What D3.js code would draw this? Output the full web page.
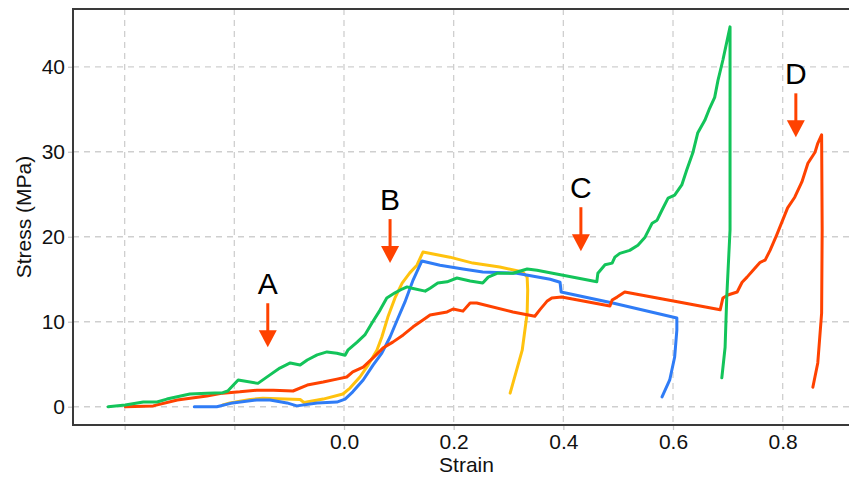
<!DOCTYPE html>
<html>
  <head>
    <style>
      body {
        margin: 0;
        background: #fff;
        overflow: hidden;
      }
      svg text {
        font-family: "Liberation Sans", Arial, sans-serif;
      }
    </style>
    <script src="https://d3js.org/d3.v7.min.js"></script>
  </head>
  <body>
    <script>
      const width = 849;
      const height = 480;

      // tick values
      const xTicks = [-0.4, -0.2, 0.0, 0.2, 0.4, 0.6, 0.8];
      const yTicks = [0, 10, 20, 30, 40];

      // curves: [strain, stress]
      const greenData = [
        [-0.43, 0.0], [-0.399, 0.2], [-0.366, 0.55], [-0.341, 0.55], [-0.323, 0.9],
        [-0.281, 1.5], [-0.25, 1.6], [-0.221, 1.65], [-0.212, 1.85], [-0.193, 3.15],
        [-0.157, 2.75], [-0.135, 3.75], [-0.117, 4.55], [-0.098, 5.15], [-0.08, 4.9],
        [-0.067, 5.5], [-0.049, 6.1], [-0.031, 6.45], [-0.013, 6.3], [0.002, 6.05],
        [0.007, 6.65], [0.024, 7.6], [0.038, 8.45], [0.051, 9.85], [0.066, 11.4],
        [0.078, 12.8], [0.093, 13.4], [0.106, 13.85], [0.115, 14.1], [0.124, 13.95],
        [0.148, 13.6], [0.157, 13.95], [0.171, 14.55], [0.188, 14.7], [0.206, 15.15],
        [0.23, 14.8], [0.253, 14.55], [0.263, 15.25], [0.279, 15.7], [0.308, 15.7],
        [0.334, 16.2], [0.352, 16.05], [0.461, 14.7], [0.463, 15.7], [0.476, 16.7],
        [0.489, 16.9], [0.494, 17.6], [0.503, 18.05], [0.521, 18.4], [0.536, 19.0],
        [0.549, 19.95], [0.562, 21.6], [0.571, 21.95], [0.58, 23.15], [0.591, 24.55],
        [0.603, 24.9], [0.616, 26.1], [0.625, 27.85], [0.636, 29.85], [0.645, 32.2],
        [0.658, 33.7], [0.667, 35.15], [0.676, 36.4], [0.682, 38.4], [0.691, 40.8],
        [0.704, 44.7], [0.704, 20.8], [0.698, 12.9], [0.695, 7.0], [0.689, 3.4]
      ];
      const redData = [
        [-0.399, 0.0], [-0.348, 0.1], [-0.304, 0.8], [-0.25, 1.25], [-0.221, 1.6],
        [-0.19, 1.75], [-0.159, 1.95], [-0.129, 1.95], [-0.093, 1.85], [-0.067, 2.55],
        [-0.038, 2.9], [-0.013, 3.25], [0.005, 3.5], [0.016, 4.1], [0.035, 4.65],
        [0.053, 5.75], [0.071, 6.9], [0.089, 7.6], [0.108, 8.45], [0.126, 9.4],
        [0.144, 10.2], [0.157, 10.8], [0.175, 11.0], [0.188, 11.15], [0.199, 11.5],
        [0.217, 11.25], [0.23, 12.2], [0.242, 12.2], [0.308, 11.15], [0.348, 10.65],
        [0.357, 11.4], [0.37, 12.4], [0.379, 12.8], [0.397, 12.9], [0.485, 11.85],
        [0.489, 12.55], [0.498, 12.9], [0.512, 13.5], [0.613, 12.3], [0.686, 11.4],
        [0.691, 12.8], [0.7, 13.15], [0.717, 13.5], [0.726, 14.65], [0.735, 15.25],
        [0.746, 16.05], [0.759, 17.0], [0.768, 17.25], [0.777, 18.4], [0.789, 20.2],
        [0.8, 21.95], [0.809, 23.4], [0.822, 24.65], [0.835, 26.45], [0.846, 28.65],
        [0.859, 29.95], [0.864, 31.0], [0.871, 32.0], [0.872, 20.8], [0.871, 11.0],
        [0.864, 5.15], [0.855, 2.3]
      ];
      const yellowData = [
        [-0.221, 0.2], [-0.208, 0.45], [-0.171, 0.85], [-0.148, 1.0], [-0.08, 0.85],
        [-0.073, 0.5], [-0.038, 0.9], [-0.002, 1.5], [0.011, 2.2], [0.029, 3.5],
        [0.044, 4.9], [0.06, 6.65], [0.069, 8.2], [0.08, 10.55], [0.093, 12.8],
        [0.106, 14.55], [0.12, 15.75], [0.133, 16.65], [0.144, 18.2], [0.193, 17.6],
        [0.235, 16.9], [0.284, 16.45], [0.326, 15.85], [0.334, 15.25], [0.335, 13.7],
        [0.334, 11.0], [0.325, 6.65], [0.303, 1.6]
      ];
      const blueData = [
        [-0.273, 0.0], [-0.232, 0.0], [-0.203, 0.45], [-0.159, 0.8], [-0.135, 0.8],
        [-0.104, 0.45], [-0.086, 0.1], [-0.049, 0.45], [-0.013, 0.55], [0.002, 0.9],
        [0.016, 1.75], [0.035, 3.15], [0.053, 4.9], [0.069, 6.3], [0.084, 8.2],
        [0.097, 10.2], [0.111, 12.3], [0.126, 14.9], [0.142, 17.15], [0.175, 16.65],
        [0.217, 16.2], [0.253, 15.85], [0.315, 15.7], [0.376, 15.0], [0.394, 14.65],
        [0.396, 13.5], [0.49, 12.2], [0.607, 10.45], [0.607, 9.0], [0.603, 5.85],
        [0.594, 3.15], [0.58, 1.15]
      ];

      // annotation arrows: label, strain, stress at arrow tip
      const arrowLabels = ["A", "B", "C", "D"];
      const arrowX = [-0.139, 0.084, 0.432, 0.824];
      const arrowY = [7.0, 16.9, 18.3, 31.7];

      const series = [
        { data: yellowData, color: "#ffc20e" },
        { data: blueData, color: "#2f7cf6" },
        { data: redData, color: "#ff4200" },
        { data: greenData, color: "#13c45a" }
      ];

      const plotLeft = 73;
      const plotTop = 9;
      const plotRight = 860;
      const plotBottom = 425;

      const svg = d3
        .select("body")
        .append("svg")
        .attr("width", width)
        .attr("height", height);

      const xScale = d3.scaleLinear().domain([-0.4942, 0.941]).range([plotLeft, plotRight]);
      const yScale = d3.scaleLinear().domain([-2.15, 46.8]).range([plotBottom, plotTop]);

      // grid
      svg
        .append("g")
        .selectAll("line")
        .data(xTicks)
        .enter()
        .append("line")
        .attr("x1", (d) => xScale(d))
        .attr("x2", (d) => xScale(d))
        .attr("y1", plotTop)
        .attr("y2", plotBottom)
        .attr("stroke", "#cfcfcf")
        .attr("stroke-width", 1.3)
        .attr("stroke-dasharray", "6,5");

      svg
        .append("g")
        .selectAll("line")
        .data(yTicks)
        .enter()
        .append("line")
        .attr("x1", plotLeft)
        .attr("x2", plotRight)
        .attr("y1", (d) => yScale(d))
        .attr("y2", (d) => yScale(d))
        .attr("stroke", "#cfcfcf")
        .attr("stroke-width", 1.3)
        .attr("stroke-dasharray", "6,5");

      // axes
      const xAxis = d3
        .axisBottom(xScale)
        .tickValues(xTicks)
        .tickSize(5)
        .tickPadding(4)
        .tickFormat((d) => (d < 0 ? "" : d3.format(".1f")(d)));
      const yAxis = d3.axisLeft(yScale).tickValues(yTicks).tickSize(5).tickPadding(3);

      const gx = svg
        .append("g")
        .attr("transform", "translate(0," + plotBottom + ")")
        .call(xAxis);
      const gy = svg
        .append("g")
        .attr("transform", "translate(" + plotLeft + ",0)")
        .call(yAxis);

      [gx, gy].forEach((g) => {
        g.select(".domain").remove();
        g.selectAll(".tick line").attr("stroke", "#c8c8c8").attr("stroke-width", 1.3);
        g.selectAll(".tick text")
          .attr("fill", "#111")
          .style("font-size", "21px")
          .style("font-family", "'Liberation Sans', Arial, sans-serif");
      });

      // frame
      svg
        .append("path")
        .attr("d", "M" + plotRight + "," + plotTop + "H" + plotLeft + "V" + plotBottom + "H" + plotRight)
        .attr("fill", "none")
        .attr("stroke", "#3a3a3a")
        .attr("stroke-width", 2);

      // curves
      const line = d3
        .line()
        .x((d) => xScale(d[0]))
        .y((d) => yScale(d[1]));

      svg
        .append("g")
        .selectAll("path")
        .data(series)
        .enter()
        .append("path")
        .attr("d", (d) => line(d.data))
        .attr("fill", "none")
        .attr("stroke", (d) => d.color)
        .attr("stroke-width", 3)
        .attr("stroke-linejoin", "round")
        .attr("stroke-linecap", "round");

      // arrows
      const arrows = svg
        .append("g")
        .selectAll("g")
        .data(arrowLabels)
        .enter()
        .append("g")
        .attr("transform", (d, i) => "translate(" + xScale(arrowX[i]) + "," + yScale(arrowY[i]) + ")");

      arrows
        .append("line")
        .attr("x1", 0)
        .attr("x2", 0)
        .attr("y1", -44)
        .attr("y2", -14)
        .attr("stroke", "#ff4200")
        .attr("stroke-width", 3);

      arrows
        .append("path")
        .attr("d", "M-9,-17L9,-17L0,0Z")
        .attr("fill", "#ff4200");

      arrows
        .append("text")
        .attr("x", 0)
        .attr("y", -53)
        .attr("text-anchor", "middle")
        .attr("fill", "#000")
        .style("font-size", "30px")
        .text((d) => d);

      // axis titles
      svg
        .append("text")
        .attr("x", (plotLeft + plotRight) / 2)
        .attr("y", 472)
        .attr("text-anchor", "middle")
        .attr("fill", "#111")
        .style("font-size", "21px")
        .text("Strain");

      svg
        .append("text")
        .attr("transform", "translate(31," + (plotTop + plotBottom) / 2 + ") rotate(-90)")
        .attr("text-anchor", "middle")
        .attr("fill", "#111")
        .style("font-size", "21px")
        .text("Stress (MPa)");
    </script>
  </body>
</html>
